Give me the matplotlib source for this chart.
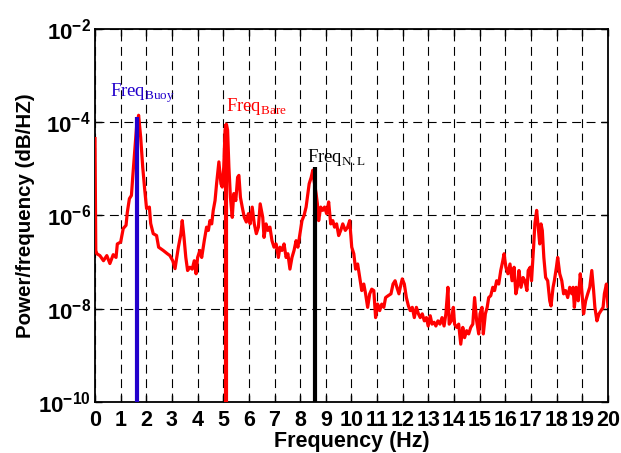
import numpy as np
import matplotlib.pyplot as plt
from matplotlib.ticker import FixedLocator, FuncFormatter, NullLocator

plt.rcParams['font.family'] = ['Liberation Sans', 'DejaVu Sans']
plt.rcParams['mathtext.fontset'] = 'custom'
plt.rcParams['mathtext.rm'] = 'Liberation Serif'
plt.rcParams['mathtext.bf'] = 'Liberation Sans:bold'

# PSD curve: frequency (Hz) and log10 of power/frequency
freq = [0.0, 0.03, 0.07, 0.19, 0.33, 0.46, 0.58, 0.71, 0.82, 0.87, 1.00, 1.10, 1.21, 1.26,
        1.34, 1.42, 1.47, 1.55, 1.62, 1.70, 1.78, 1.86, 1.94, 2.01, 2.12, 2.17, 2.27, 2.40,
        2.48, 2.66, 2.82, 2.92, 3.03, 3.12, 3.25, 3.35, 3.40, 3.47, 3.54, 3.61, 3.70, 3.79,
        3.87, 3.94, 4.00, 4.09, 4.16, 4.26, 4.35, 4.42, 4.48, 4.55, 4.61, 4.68, 4.74, 4.83,
        4.91, 4.96, 5.02, 5.07, 5.12, 5.17, 5.22, 5.28, 5.35, 5.41, 5.49, 5.56, 5.61, 5.67,
        5.74, 5.82, 5.90, 5.98, 6.05, 6.13, 6.21, 6.29, 6.37, 6.44, 6.54, 6.59, 6.67, 6.74,
        6.82, 6.90, 6.98, 7.06, 7.15, 7.21, 7.29, 7.37, 7.45, 7.52, 7.60, 7.68, 7.76, 7.84,
        7.91, 7.99, 8.07, 8.15, 8.23, 8.30, 8.35, 8.43, 8.49, 8.54, 8.62, 8.67, 8.72, 8.80,
        8.88, 8.95, 9.03, 9.11, 9.19, 9.27, 9.34, 9.42, 9.50, 9.58, 9.66, 9.76, 9.85, 9.93,
        10.01, 10.09, 10.16, 10.24, 10.32, 10.40, 10.48, 10.55, 10.63, 10.71, 10.79, 10.87,
        10.94, 11.02, 11.10, 11.18, 11.26, 11.33, 11.43, 11.54, 11.62, 11.70, 11.77, 11.85,
        11.93, 11.98, 12.06, 12.14, 12.22, 12.29, 12.37, 12.45, 12.53, 12.61, 12.68, 12.76,
        12.84, 12.92, 12.99, 13.07, 13.14, 13.22, 13.29, 13.37, 13.45, 13.53, 13.61, 13.68,
        13.76, 13.81, 13.89, 13.97, 14.02, 14.10, 14.18, 14.26, 14.34, 14.41, 14.49, 14.57,
        14.65, 14.73, 14.80, 14.88, 14.96, 15.01, 15.09, 15.14, 15.22, 15.29, 15.35, 15.43,
        15.51, 15.58, 15.66, 15.74, 15.82, 15.90, 15.95, 16.02, 16.10, 16.18, 16.26, 16.34,
        16.41, 16.49, 16.53, 16.61, 16.69, 16.76, 16.84, 16.89, 16.97, 17.02, 17.10, 17.15,
        17.22, 17.28, 17.34, 17.39, 17.44, 17.50, 17.57, 17.65, 17.73, 17.78, 17.86, 17.91,
        17.99, 18.04, 18.12, 18.20, 18.27, 18.35, 18.43, 18.51, 18.59, 18.64, 18.69, 18.76,
        18.84, 18.92, 18.97, 19.05, 19.13, 19.21, 19.29, 19.37, 19.44, 19.49, 19.57, 19.65,
        19.73, 19.81, 19.86, 19.94, 20.0]
psd_log = [-4.35, -6.75, -6.82, -6.86, -6.97, -6.86, -7.03, -6.84, -6.90, -6.61, -6.57, -6.28,
           -6.21, -5.93, -5.64, -5.57, -5.18, -4.60, -4.10, -3.85, -4.32, -4.96, -5.46, -5.85,
           -5.82, -6.17, -6.39, -6.43, -6.68, -6.75, -6.82, -6.86, -6.97, -7.14, -6.68, -6.39,
           -6.11, -6.47, -6.90, -7.18, -7.11, -7.15, -6.97, -7.25, -6.90, -6.75, -6.90, -6.54,
           -6.25, -6.32, -6.11, -6.18, -5.89, -5.68, -5.32, -4.85, -5.32, -5.39, -4.96, -4.17,
           -4.04, -4.17, -4.96, -5.61, -6.04, -5.53, -5.68, -5.18, -5.14, -5.61, -5.82, -6.04,
           -6.14, -5.96, -6.18, -5.82, -6.18, -6.39, -6.25, -5.75, -6.04, -6.47, -6.18, -6.32,
           -6.25, -6.54, -6.68, -6.61, -6.90, -6.68, -6.75, -6.61, -6.90, -6.82, -7.15, -6.90,
           -6.75, -6.54, -6.68, -6.39, -6.11, -6.00, -5.82, -5.53, -5.32, -5.18, -5.03, -5.25,
           -5.53, -5.75, -6.11, -5.82, -5.89, -5.82, -5.96, -5.71, -6.18, -6.11, -6.25, -6.18,
           -6.43, -6.32, -6.18, -6.32, -6.25, -6.11, -6.68, -6.82, -7.15, -7.04, -7.33, -7.61,
           -7.47, -7.68, -7.97, -7.68, -7.58, -7.61, -8.19, -7.90, -8.04, -7.90, -7.97, -7.76,
           -7.72, -7.68, -7.47, -7.40, -7.54, -7.68, -7.47, -7.36, -7.47, -7.76, -7.94, -8.04,
           -7.97, -8.19, -7.97, -8.11, -8.19, -8.11, -8.26, -8.19, -8.37, -8.15, -8.33, -8.29,
           -8.37, -8.26, -8.33, -8.19, -8.37, -8.11, -7.54, -8.33, -8.26, -7.97, -8.33, -8.40,
           -8.33, -8.76, -8.40, -8.62, -8.47, -8.54, -8.40, -8.33, -7.76, -8.26, -8.54, -8.11,
           -7.97, -8.54, -8.11, -7.97, -7.76, -7.72, -7.54, -7.61, -7.40, -7.47, -7.18, -6.97,
           -6.82, -7.11, -7.25, -7.04, -7.40, -7.11, -7.68, -7.47, -7.18, -7.54, -7.33, -7.40,
           -7.61, -7.18, -7.11, -7.40, -6.68, -6.18, -5.89, -6.25, -6.61, -6.18, -6.32, -6.90,
           -7.33, -7.40, -7.83, -7.94, -7.54, -7.40, -7.11, -6.90, -7.25, -7.40, -7.68, -7.61,
           -7.76, -7.54, -7.68, -7.54, -7.97, -7.54, -7.83, -7.25, -7.54, -8.11, -7.83, -7.68,
           -7.54, -7.18, -7.61, -7.97, -8.26, -8.11, -8.04, -7.97, -7.68, -7.47, -7.95]

# natural frequency markers: (frequency, top of the line), label, colour
marker_freq = [1.63, 5.10, 8.58]
marker_top = [1.3e-4, 9.0e-5, 1.07e-5]
marker_label = [r'Freq$_{\mathrm{Buoy}}$', r'Freq$_{\mathrm{Bare}}$', r'Freq$_{\mathrm{N.L}}$']
marker_color = ['#2200cc', 'red', 'black']
label_pos = [(0.58, 3.5e-4), (5.11, 1.73e-4), (8.27, 1.38e-5)]

fig = plt.figure(figsize=(6.21, 4.53), dpi=100)
ax = fig.add_axes([0.153, 0.1126, 0.826, 0.8234])

ax.plot(freq, 10 ** np.array(psd_log), color='red', lw=2.3, zorder=3)
for f, top, c in zip(marker_freq, marker_top, marker_color):
    ax.vlines(f, 1e-10, top, color=c, lw=3, zorder=4)
for (x, y), txt, c in zip(label_pos, marker_label, marker_color):
    ax.text(x, y, txt, color=c, fontsize=13.5, family='Liberation Serif',
            ha='left', va='baseline', zorder=5)

ax.set_yscale('log')
ax.set_xlim(0, 20)
ax.set_ylim(1e-10, 1e-2)
ax.xaxis.set_major_locator(FixedLocator(range(0, 21)))
ax.yaxis.set_major_locator(FixedLocator([1e-10, 1e-8, 1e-6, 1e-4, 1e-2]))
ax.yaxis.set_minor_locator(NullLocator())
ax.yaxis.set_major_formatter(FuncFormatter(
    lambda v, p: r'$\mathbf{10^{%d}}$' % round(np.log10(v))))

ax.grid(True, color='black', lw=0.8, linestyle=(0, (8, 5)))
ax.tick_params(direction='in', top=True, right=True, length=5, width=1)
ax.tick_params(axis='x', labelsize=15.5, pad=6)
ax.tick_params(axis='y', labelsize=16, pad=3)
for lab in ax.get_xticklabels():
    lab.set_fontweight('bold')
for s in ax.spines.values():
    s.set_linewidth(1.3)

ax.set_xlabel('Frequency (Hz)', fontsize=15.5, fontweight='bold', labelpad=0)
ax.set_ylabel('Power/frequency (dB/HZ)', fontsize=14.8, fontweight='bold', labelpad=2)

fig.savefig('out.png', dpi=100)
